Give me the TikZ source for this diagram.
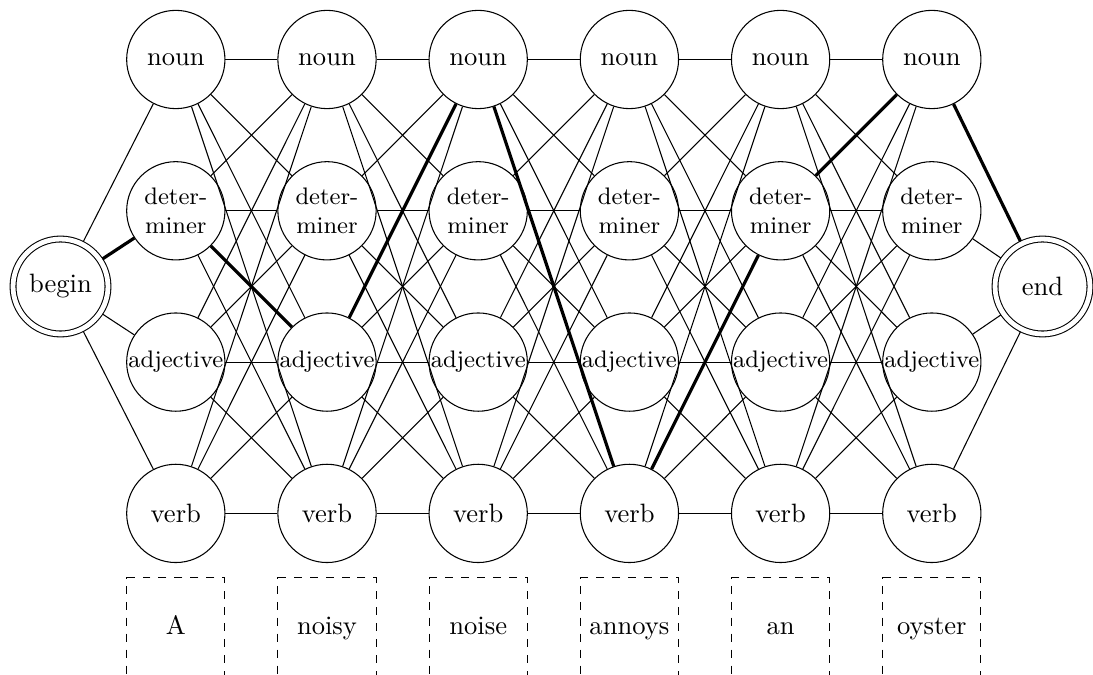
\documentclass[tikz,border=0pt]{standalone}
\begin{document}
\begin{tikzpicture}[x=0.013228cm, y=-0.013228cm,
  state/.style={circle, draw, minimum size=1.3cm, inner sep=0pt},
  smalltext/.style={font=\small, align=center},
  term/.style={circle, draw, double, double distance=1.8pt, minimum size=1.256cm, inner sep=0pt, outer sep=1.1pt},
  wordbox/.style={draw, dashed, minimum size=1.3cm, inner sep=0pt, text height=1.5ex, text depth=.25ex},
  link/.style={thin},
  best/.style={very thick}]
\useasboundingbox (0,0) rectangle (1093,675);
% columns
\foreach \i/\w in {1/A,2/noisy,3/noise,4/annoys,5/an,6/oyster}{
  \pgfmathsetmacro{\cx}{175.8+151.2*(\i-1)}
  \node[state] (n\i) at (\cx,59.5) {noun};
  \node[state, smalltext] (d\i) at (\cx,210.8) {deter-\\miner};
  \node[state, smalltext] (a\i) at (\cx,362.1) {adjective};
  \node[state] (v\i) at (\cx,513.4) {verb};
  \node[wordbox] (w\i) at (\cx,626.9) {\w};
}
\node[term] (begin) at (60.5,286.5) {begin};
\node[term] (end) at (1042.5,286.5) {end};
% thin links
\foreach \s in {n,d,a,v}{
  \draw[link] (begin) -- (\s1);
  \draw[link] (\s6) -- (end);
}
\foreach \i in {1,...,5}{
  \pgfmathtruncatemacro{\j}{\i+1}
  \foreach \r in {n,d,a,v}{
    \foreach \s in {n,d,a,v}{
      \draw[link] (\r\i) -- (\s\j);
    }
  }
}
% best path
\draw[best] (begin) -- (d1);
\draw[best] (d1) -- (a2);
\draw[best] (a2) -- (n3);
\draw[best] (n3) -- (v4);
\draw[best] (v4) -- (d5);
\draw[best] (d5) -- (n6);
\draw[best] (n6) -- (end);
\end{tikzpicture}
\end{document}
